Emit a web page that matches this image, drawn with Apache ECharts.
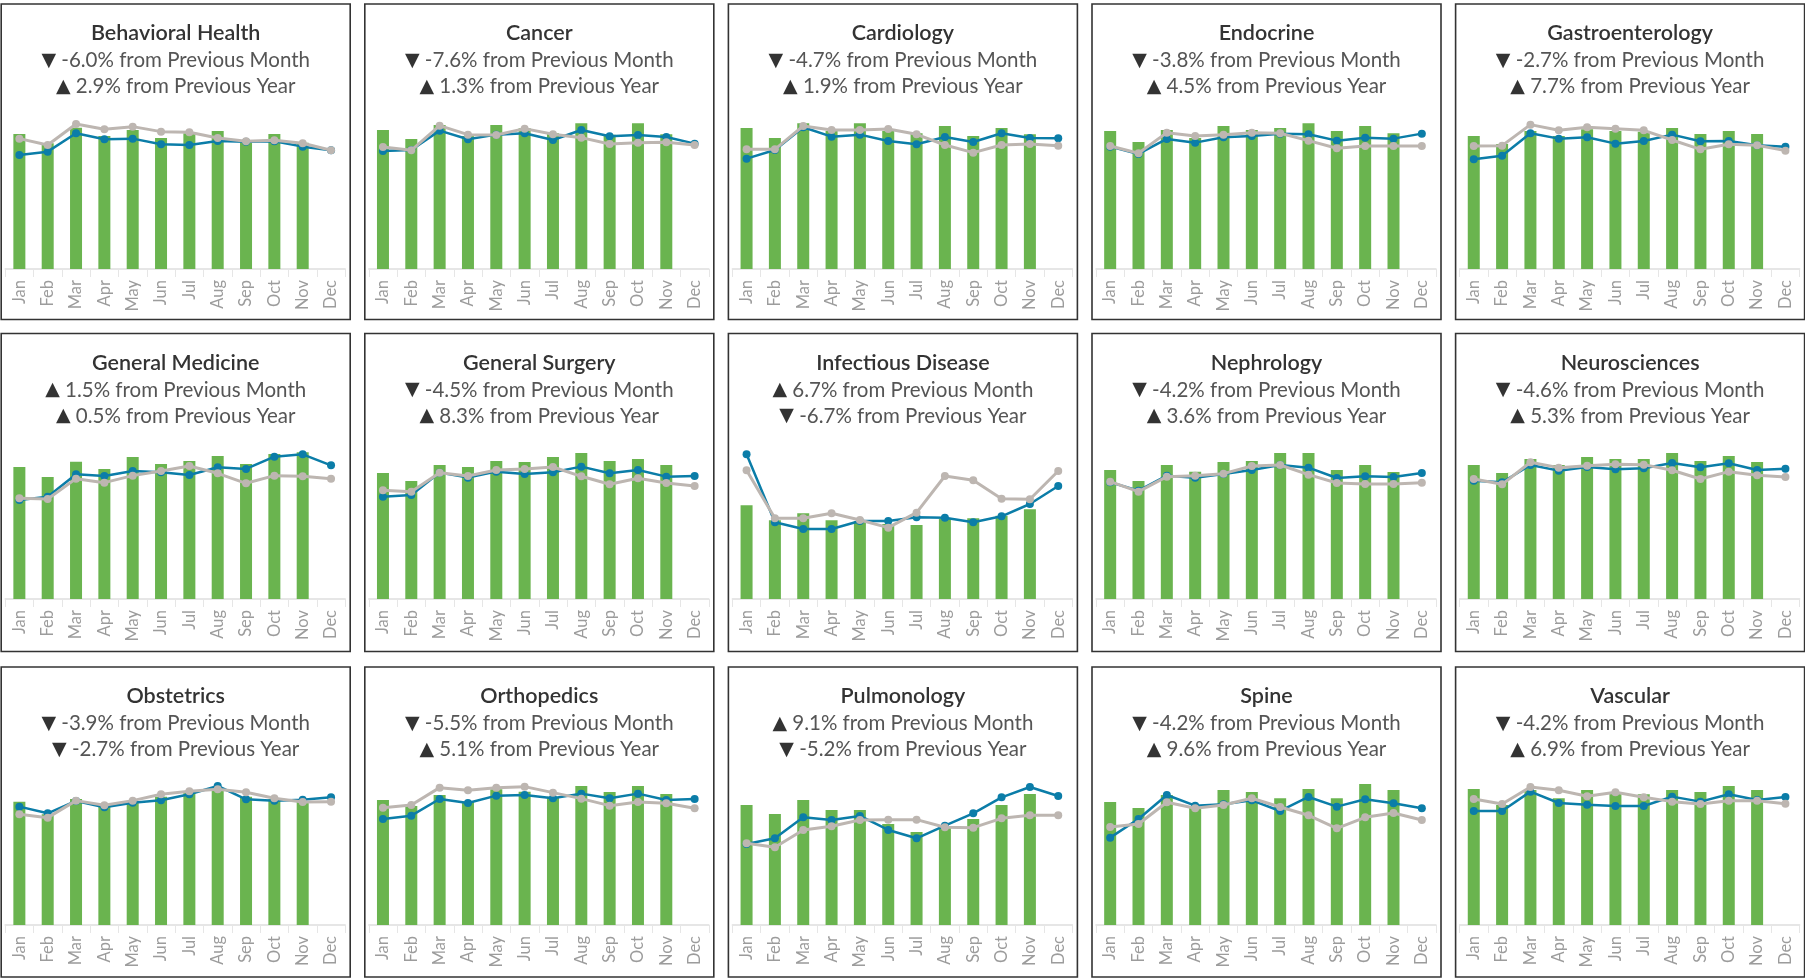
<!DOCTYPE html>
<html>
<head>
<meta charset="utf-8">
<script src="https://cdn.jsdelivr.net/npm/echarts/dist/echarts.min.js"></script>
<style>
  html, body { margin: 0; padding: 0; background: #ffffff; }
  #chart { width: 1805px; height: 978px; }
</style>
</head>
<body>
<div id="chart"></div>
<script>
// ---------------- DATA ----------------
const months = ['Jan','Feb','Mar','Apr','May','Jun','Jul','Aug','Sep','Oct','Nov','Dec'];

const departments = [
  'Behavioral Health','Cancer','Cardiology','Endocrine','Gastroenterology',
  'General Medicine','General Surgery','Infectious Disease','Nephrology','Neurosciences',
  'Obstetrics','Orthopedics','Pulmonology','Spine','Vascular'
];

const changeFromPreviousMonth = [-6.0, -7.6, -4.7, -3.8, -2.7, 1.5, -4.5, 6.7, -4.2, -4.6, -3.9, -5.5, 9.1, -4.2, -4.2];
const changeFromPreviousYear  = [ 2.9,  1.3,  1.9,  4.5,  7.7, 0.5,  8.3, -6.7, 3.6,  5.3, -2.7,  5.1, -5.2, 9.6, 6.9];

// Bars: current-year monthly volume (index, Jan-Nov)
const behavioralHealthActual = [81.0, 75.4, 84.8, 79.8, 83.4, 78.6, 81.4, 82.8, 77.4, 81.0, 75.8];
const cancerActual           = [83.4, 78.0, 86.4, 79.8, 86.4, 84.4, 81.4, 87.4, 80.6, 87.4, 80.8];
const cardiologyActual       = [84.6, 78.6, 87.4, 82.8, 87.4, 82.8, 81.4, 85.8, 79.8, 84.6, 80.8];
const endocrineActual        = [82.8, 76.2, 83.4, 78.6, 85.8, 83.4, 84.6, 87.4, 82.8, 85.8, 81.4];
const gastroActual           = [79.8, 75.0, 82.8, 79.8, 83.8, 82.8, 82.4, 84.6, 81.0, 82.8, 81.0];
const generalMedicineActual  = [79.2, 73.2, 82.4, 78.0, 85.2, 81.0, 82.8, 85.8, 81.0, 87.0, 88.0];
const generalSurgeryActual   = [75.6, 70.8, 80.4, 79.2, 82.8, 82.2, 85.2, 87.6, 82.8, 84.0, 80.4];
const infectiousActual       = [56.2, 47.2, 51.4, 47.2, 46.8, 45.0, 44.4, 48.0, 48.4, 50.0, 53.8];
const nephrologyActual       = [77.4, 70.8, 80.4, 76.4, 82.2, 82.8, 87.6, 87.6, 77.4, 80.4, 76.2];
const neurosciencesActual    = [80.4, 75.6, 84.0, 80.4, 85.2, 84.0, 84.0, 87.6, 82.8, 85.8, 82.2];
const obstetricsActual       = [74.0, 66.4, 75.6, 72.0, 74.0, 77.0, 79.6, 82.0, 77.0, 75.6, 74.0];
const orthopedicsActual      = [75.0, 71.4, 78.0, 74.0, 81.4, 80.0, 77.0, 83.4, 79.8, 83.4, 78.6];
const pulmonologyActual      = [72.0, 66.6, 75.0, 69.0, 69.0, 60.6, 55.8, 59.0, 63.6, 72.0, 78.6];
const spineActual            = [73.8, 70.2, 78.0, 71.0, 81.0, 79.8, 76.0, 81.6, 76.0, 84.6, 81.0];
const vascularActual         = [81.6, 72.0, 81.0, 76.0, 81.0, 79.8, 78.4, 81.0, 79.8, 83.4, 81.0];

// Blue line: benchmark (Jan-Dec)
const behavioralHealthBenchmark = [68.4, 70.4, 81.4, 77.8, 78.2, 74.8, 74.4, 76.8, 76.4, 76.6, 73.4, 71.2];
const cancerBenchmark           = [70.8, 71.4, 83.0, 77.8, 80.6, 81.4, 77.4, 83.4, 79.6, 80.4, 79.2, 75.2];
const cardiologyBenchmark       = [66.2, 71.4, 85.0, 79.4, 80.6, 76.8, 74.8, 79.2, 76.2, 81.4, 78.6, 78.4];
const endocrineBenchmark        = [73.4, 69.0, 78.0, 75.8, 79.0, 79.8, 81.2, 80.8, 77.0, 78.8, 78.2, 81.2];
const gastroBenchmark           = [65.8, 68.0, 81.4, 78.2, 79.0, 75.2, 76.8, 80.6, 76.6, 76.8, 74.2, 73.4];
const generalMedicineBenchmark  = [59.4, 61.4, 74.8, 73.8, 76.8, 76.0, 74.4, 79.0, 78.0, 85.4, 86.8, 80.2];
const generalSurgeryBenchmark   = [61.4, 62.4, 75.8, 72.8, 76.4, 75.0, 76.0, 79.4, 75.4, 77.4, 73.4, 73.8];
const infectiousBenchmark       = [86.8, 46.0, 42.0, 42.0, 46.8, 46.8, 49.0, 48.8, 46.0, 49.6, 57.0, 67.8];
const nephrologyBenchmark       = [70.0, 65.0, 74.0, 72.8, 75.0, 77.4, 80.4, 78.8, 72.6, 73.6, 73.2, 75.6];
const neurosciencesBenchmark    = [71.0, 70.0, 80.4, 77.0, 79.2, 77.8, 78.4, 81.6, 79.0, 81.4, 77.4, 78.2];
const obstetricsBenchmark       = [71.0, 67.0, 74.4, 70.6, 73.4, 74.8, 78.4, 83.4, 75.4, 74.6, 75.2, 76.6];
const orthopedicsBenchmark      = [63.6, 65.6, 75.6, 73.2, 77.6, 78.0, 76.0, 78.8, 76.0, 78.8, 75.0, 75.6];
const pulmonologyBenchmark      = [48.6, 52.0, 64.6, 63.0, 65.4, 57.0, 52.0, 59.6, 67.0, 76.6, 82.8, 77.4];
const spineBenchmark            = [52.4, 63.6, 78.0, 71.6, 72.4, 74.8, 68.4, 76.8, 71.0, 75.4, 73.0, 70.0];
const vascularBenchmark         = [68.4, 68.4, 80.0, 73.2, 72.2, 71.4, 71.4, 77.0, 74.0, 78.4, 75.0, 76.8];

// Gray line: previous year (Jan-Dec)
const behavioralHealthPrior = [78.2, 74.4, 87.0, 83.8, 85.4, 82.4, 82.0, 78.6, 76.6, 77.2, 75.4, 71.2];
const cancerPrior           = [73.2, 71.2, 86.0, 80.6, 80.4, 84.2, 80.8, 78.8, 75.0, 75.8, 76.0, 74.4];
const cardiologyPrior       = [71.8, 71.8, 85.8, 83.4, 83.4, 84.0, 80.8, 74.4, 69.8, 74.4, 75.0, 74.0];
const endocrinePrior        = [73.8, 69.4, 81.8, 79.8, 80.6, 81.8, 81.4, 77.0, 72.4, 73.8, 73.8, 73.8];
const gastroPrior           = [73.8, 74.0, 86.6, 83.2, 85.0, 84.2, 83.2, 77.4, 71.8, 74.8, 74.2, 71.0];
const generalMedicinePrior  = [60.4, 60.0, 72.2, 69.8, 74.0, 76.8, 79.8, 75.4, 69.4, 74.0, 73.6, 72.2];
const generalSurgeryPrior   = [65.2, 64.4, 75.8, 73.8, 77.4, 78.0, 79.2, 73.6, 68.8, 72.4, 69.6, 67.8];
const infectiousPrior       = [77.2, 48.4, 48.4, 51.4, 47.4, 42.8, 51.8, 73.8, 71.2, 60.2, 59.8, 76.8];
const nephrologyPrior       = [70.4, 64.4, 73.4, 74.0, 75.2, 79.8, 80.4, 74.6, 69.6, 69.0, 69.0, 69.8];
const neurosciencesPrior    = [72.0, 68.8, 82.0, 78.8, 80.0, 80.8, 80.6, 77.2, 72.0, 76.4, 74.2, 73.2];
const obstetricsPrior       = [66.4, 64.4, 74.6, 71.8, 74.6, 78.4, 80.2, 81.4, 79.6, 76.0, 73.8, 74.0];
const orthopedicsPrior      = [70.4, 72.0, 82.4, 80.8, 82.4, 83.0, 79.4, 75.8, 71.6, 73.8, 73.0, 70.0];
const pulmonologyPrior      = [49.0, 46.6, 57.0, 59.2, 63.0, 63.2, 63.2, 58.6, 58.4, 64.0, 65.8, 65.8];
const spinePrior            = [58.8, 60.6, 73.6, 70.0, 72.0, 76.0, 70.8, 65.8, 58.0, 64.6, 67.2, 63.0];
const vascularPrior         = [75.6, 72.6, 82.8, 80.8, 77.2, 79.6, 76.6, 74.0, 72.6, 74.6, 74.6, 72.8];

const actualSeries = [behavioralHealthActual, cancerActual, cardiologyActual, endocrineActual, gastroActual,
  generalMedicineActual, generalSurgeryActual, infectiousActual, nephrologyActual, neurosciencesActual,
  obstetricsActual, orthopedicsActual, pulmonologyActual, spineActual, vascularActual];
const benchmarkSeries = [behavioralHealthBenchmark, cancerBenchmark, cardiologyBenchmark, endocrineBenchmark, gastroBenchmark,
  generalMedicineBenchmark, generalSurgeryBenchmark, infectiousBenchmark, nephrologyBenchmark, neurosciencesBenchmark,
  obstetricsBenchmark, orthopedicsBenchmark, pulmonologyBenchmark, spineBenchmark, vascularBenchmark];
const priorSeries = [behavioralHealthPrior, cancerPrior, cardiologyPrior, endocrinePrior, gastroPrior,
  generalMedicinePrior, generalSurgeryPrior, infectiousPrior, nephrologyPrior, neurosciencesPrior,
  obstetricsPrior, orthopedicsPrior, pulmonologyPrior, spinePrior, vascularPrior];

// ---------------- LAYOUT / STYLE ----------------
const FONT = 'Lato, "DejaVu Sans", sans-serif';
const BAR_COLOR = '#6AB44F';
const BLUE = '#0B7DA8';
const GRAY = '#BDB6B1';
const PANEL_W = 349, COL_PITCH = 363.6, COL0 = 1.2;
const ROW_TOP = [4, 333.5, 667];
const ROW_BOTTOM = [319.5, 651.5, 977];
const BASELINE = [269, 599, 925];
const PLOT_H = 166.7, PLOT_PAD = 4, PLOT_W = 340;

function changeLine(v, label) {
  const tri = v >= 0 ? '\u25B2' : '\u25BC';
  return '{tri|' + tri + '} ' + v.toFixed(1) + '% from Previous ' + label;
}

const grid = [], xAxis = [], yAxis = [], series = [], graphic = [];

departments.forEach((name, k) => {
  const r = Math.floor(k / 5), c = k % 5;
  const left = COL0 + c * COL_PITCH;
  const top = ROW_TOP[r];
  const cx = left + PANEL_W / 2;

  grid.push({ left: left + PLOT_PAD, width: PLOT_W, top: BASELINE[r] - PLOT_H, height: PLOT_H,
              containLabel: false, outerBoundsMode: 'none' });
  xAxis.push({
    gridIndex: k, type: 'category', data: months, boundaryGap: true,
    axisLine: { show: true, lineStyle: { color: '#dedede', width: 1.5 } },
    axisTick: { show: true, length: 8, lineStyle: { color: '#e6e6e6', width: 1 } },
    axisLabel: { rotate: 90, interval: 0, color: '#9c9c9c', fontSize: 16.5, fontFamily: FONT, margin: 11 },
    splitLine: { show: false }
  });
  yAxis.push({ gridIndex: k, type: 'value', min: 0, max: 100, show: false, splitLine: { show: false } });

  series.push({
    type: 'bar', xAxisIndex: k, yAxisIndex: k, data: actualSeries[k],
    barWidth: 12, itemStyle: { color: BAR_COLOR }, silent: true, z: 2
  });
  series.push({
    type: 'line', xAxisIndex: k, yAxisIndex: k, data: benchmarkSeries[k],
    symbol: 'circle', symbolSize: 8, showAllSymbol: true,
    lineStyle: { color: BLUE, width: 2.5 }, itemStyle: { color: BLUE }, z: 3, silent: true
  });
  series.push({
    type: 'line', xAxisIndex: k, yAxisIndex: k, data: priorSeries[k],
    symbol: 'circle', symbolSize: 8, showAllSymbol: true,
    lineStyle: { color: GRAY, width: 3 }, itemStyle: { color: GRAY }, z: 4, silent: true
  });

  graphic.push({
    type: 'rect', silent: true, z: 1,
    shape: { x: left, y: top, width: PANEL_W, height: ROW_BOTTOM[r] - top },
    style: { fill: null, stroke: '#333333', lineWidth: 1.6 }
  });
  graphic.push({
    type: 'text', silent: true, z: 10,
    style: { x: cx, y: top + 29.3, text: name, align: 'center', verticalAlign: 'middle',
             textAlign: 'center', textVerticalAlign: 'middle',
             font: '600 21.5px ' + FONT, fill: '#333333' }
  });
  const rich = { tri: { fontSize: 19, fontFamily: '"DejaVu Sans", sans-serif', fill: '#333333', color: '#333333' } };
  graphic.push({
    type: 'text', silent: true, z: 10,
    style: { x: cx, y: top + 56.8, text: changeLine(changeFromPreviousMonth[k], 'Month'),
             align: 'center', verticalAlign: 'middle', textAlign: 'center', textVerticalAlign: 'middle',
             font: '20.5px ' + FONT, fill: '#555555', rich: rich }
  });
  graphic.push({
    type: 'text', silent: true, z: 10,
    style: { x: cx, y: top + 82.6, text: changeLine(changeFromPreviousYear[k], 'Year'),
             align: 'center', verticalAlign: 'middle', textAlign: 'center', textVerticalAlign: 'middle',
             font: '20.5px ' + FONT, fill: '#555555', rich: rich }
  });
});

const chart = echarts.init(document.getElementById('chart'), null, { renderer: 'canvas', width: 1805, height: 978 });
chart.setOption({
  backgroundColor: '#ffffff',
  animation: false,
  grid: grid,
  xAxis: xAxis,
  yAxis: yAxis,
  series: series,
  graphic: graphic
});
</script>
</body>
</html>
